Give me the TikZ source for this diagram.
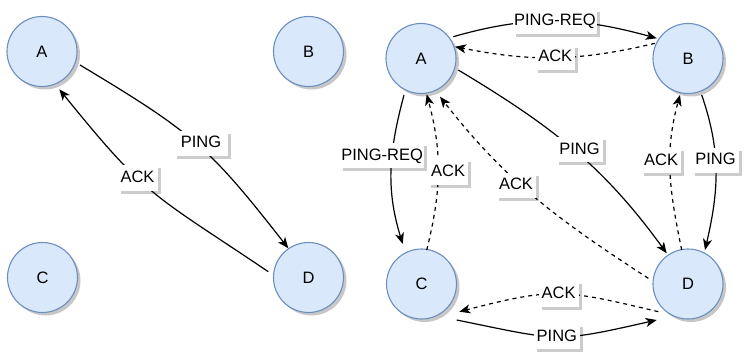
\documentclass[tikz,border=0pt]{standalone}
\usepackage{fontspec}
\setmainfont{Liberation Sans}
\usetikzlibrary{arrows.meta,shadows}
\definecolor{nodefill}{HTML}{DAE8FC}
\definecolor{nodeline}{HTML}{6C8EBF}
\tikzset{
  txt/.style={font=\fontsize{16.5pt}{19pt}\selectfont},
  peer/.style={txt, circle, minimum size=70pt, inner sep=0pt, fill=nodefill, draw=nodeline, line width=1.1pt,
    drop shadow={shadow xshift=3pt, shadow yshift=-3pt, fill=black, opacity=0.22}},
  lbl/.style={txt, fill=white, inner xsep=3pt, inner ysep=5.25pt, text height=11.8pt, text depth=3pt,
    drop shadow={shadow xshift=3pt, shadow yshift=-3pt, fill=black, opacity=0.2}},
  msg/.style={line width=1.2pt, -{Stealth[length=11pt,width=9pt,inset=3pt]}},
  reply/.style={msg, dash pattern=on 4pt off 4pt},
  at/.code={},
}
\begin{document}
\begin{tikzpicture}[x=1pt,y=1pt]
\useasboundingbox (0,0) rectangle (746,351);
% left: direct probe
\node[peer] (lA) at (42,299.5) {A};
\node[peer] (lB) at (308.5,299.5) {B};
\node[peer] (lC) at (42.5,73.5) {C};
\node[peer] (lD) at (308.5,73.5) {D};
% right: indirect probe
\node[peer] (rA) at (421,292.5) {A};
\node[peer] (rB) at (688,292.5) {B};
\node[peer] (rC) at (421.5,67) {C};
\node[peer] (rD) at (688,67) {D};

\draw[msg] ([shift={(38,-13.5)}]lA.center) to[out=-31,in=128,looseness=1.2]
  node[lbl,pos=0.5,xshift=5pt,inner xsep=7pt]{PING} ([shift={(-20.2,29.2)}]lD.center);
\draw[msg] ([shift={(-40.2,5.8)}]lD.center) to[out=146,in=-51,looseness=1.3]
  node[lbl,pos=0.6]{ACK} ([shift={(17.3,-37.8)}]lA.center);

\draw[msg] ([shift={(32.3,21.8)}]rA.center) to[out=16,in=164.5]
  node[lbl,inner xsep=1.5pt]{PING-REQ} ([shift={(-31.3,20.2)}]rB.center);
\draw[reply] ([shift={(-33,15.2)}]rB.center) to[out=193.4,in=-11.3]
  node[lbl]{ACK} ([shift={(34,11.8)}]rA.center);
\draw[msg] ([shift={(-17,-36.5)}]rA.center) to[out=255,in=107]
  node[lbl,pos=0.4,xshift=-10pt,inner xsep=1.5pt]{PING-REQ} ([shift={(-18.8,40)}]rC.center);
\draw[reply] ([shift={(5.2,34)}]rC.center) to[out=76,in=-75]
  node[lbl,pos=0.5,xshift=10pt]{ACK} ([shift={(5.7,-35.8)}]rA.center);
\draw[msg] ([shift={(37.3,-11.5)}]rA.center) to[out=-31,in=126]
  node[lbl,xshift=6pt]{PING} ([shift={(-21.3,30.7)}]rD.center);
\draw[reply] ([shift={(-39.7,5.7)}]rD.center) to[out=147,in=-52]
  node[lbl,pos=0.6,yshift=-5pt]{ACK} ([shift={(19,-38.2)}]rA.center);
\draw[reply] ([shift={(-6.3,34)}]rD.center) to[out=101.6,in=-105.4]
  node[lbl,pos=0.58,xshift=-9pt]{ACK} ([shift={(-8,-36.5)}]rB.center);
\draw[msg] ([shift={(13.7,-36.5)}]rB.center) to[out=-71,in=77]
  node[lbl,pos=0.42]{PING} ([shift={(17,34)}]rD.center);
\draw[reply] ([shift={(-29.7,-27.7)}]rD.center) to[out=166.6,in=14.5,looseness=1.26]
  node[lbl]{ACK} ([shift={(37.8,-27.7)}]rC.center);
\draw[msg] ([shift={(35.2,-36)}]rC.center) to[out=-11.5,in=192.8,looseness=1.35]
  node[lbl]{PING} ([shift={(-31.3,-36)}]rD.center);
\end{tikzpicture}
\end{document}
